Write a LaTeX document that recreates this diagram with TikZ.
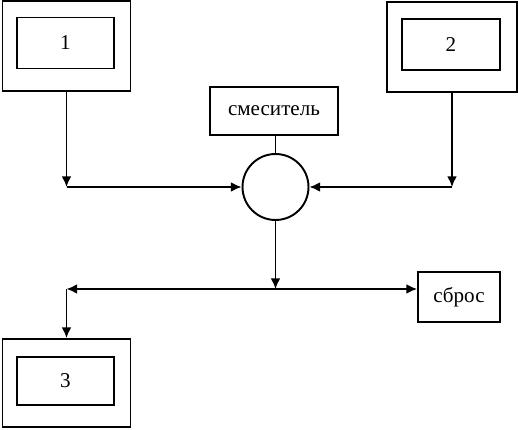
\documentclass[tikz,border=0pt]{standalone}
\usepackage{fontspec}
\setmainfont{Liberation Serif}
\usetikzlibrary{arrows.meta,calc,positioning}

\tikzset{
  unit/.style={draw,line width=1.1pt,minimum width=#1,minimum height=1.8cm,inner sep=0pt},
  inbox/.style={draw,line width=1.1pt,minimum width=1.95cm,minimum height=1.02cm,inner sep=0pt,font=\fontsize{12}{14}\selectfont},
  label box/.style={draw,line width=1.1pt,inner sep=0pt,font=\fontsize{12}{14}\selectfont},
  flow/.style={line width=0.9pt,-{Latex[length=6pt,width=5.5pt]}}
}

\begin{document}
\begin{tikzpicture}
\useasboundingbox (0,0) rectangle (10.36,8.6);
% units 1, 2, 3
\node[unit=2.56cm] (outer1) at (1.33,7.68) {};
\node[inbox] (box1) at (1.31,7.74) {1};
\node[unit=2.6cm] (outer2) at (9.04,7.66) {};
\node[inbox] (box2) at (9.02,7.71) {2};
\node[unit=2.56cm,minimum height=1.76cm] (outer3) at (1.33,0.94) {};
\node[inbox,minimum height=0.96cm] (box3) at (1.31,0.98) {3};
% mixer
\node[label box,minimum width=2.56cm,minimum height=0.96cm] (mixbox) at (5.48,6.38) {смеситель};
\node[draw,circle,line width=1.1pt,minimum size=1.32cm,inner sep=0pt] (mix) at (5.51,4.86) {};
\node[label box,minimum width=1.64cm,minimum height=1cm] (sbros) at (9.18,2.66) {сброс};
\coordinate (c1) at (outer1.south |- mix.west);
\coordinate (c2) at (outer2.south |- mix.east);
\coordinate (j) at (5.51,2.82);
\coordinate (c3) at (outer3.north |- j);
% connectors
\draw[line width=0.9pt] (mixbox.south -| mix.north) -- (mix.north);
\draw[flow] (outer1.south) -- (c1);
\draw[flow] (c1) -- (mix.west);
\draw[flow] (outer2.south) -- (c2);
\draw[flow] (c2) -- (mix.east);
\draw[flow] (mix.south) -- (j);
\draw[flow] (j) -- (c3);
\draw[flow] (j) -- (j -| sbros.west);
\draw[flow] (c3) -- (outer3.north);
\end{tikzpicture}
\end{document}
